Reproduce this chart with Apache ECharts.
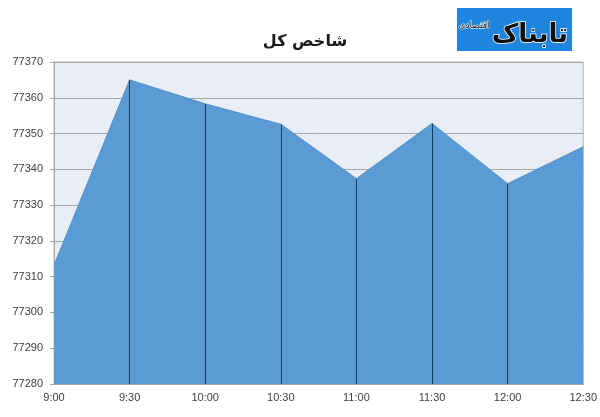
<!DOCTYPE html>
<html><head><meta charset="utf-8">
<script src="https://cdn.jsdelivr.net/npm/echarts@6/dist/echarts.min.js"></script>
<style>html,body{margin:0;padding:0;background:#fff}#c{width:600px;height:417px}</style>
</head><body><div id="c"></div>
<script>
const categories = ['9:00','9:30','10:00','10:30','11:00','11:30','12:00','12:30'];
const values = [77313.2, 77365.0, 77358.3, 77352.6, 77337.4, 77352.8, 77336.0, 77346.3];
const yMin = 77280, yMax = 77370, yStep = 10;
const titleText = 'شاخص کل';
const logoMain = 'تابناک';
const logoSub = 'اقتصادی';

const chart = echarts.init(document.getElementById('c'), null, {renderer:'canvas'});
const dropLines = values.map((v,i)=>[{coord:[i, yMin]},{coord:[i, v]}]).slice(1, values.length-1);
chart.setOption({
  animation:false,
  backgroundColor:'#fff',
  title:{text:titleText,left:300,top:29,textAlign:'center',textStyle:{fontFamily:'DejaVu Sans',fontWeight:'bold',fontSize:16,color:'#1a1a1a'}},
  grid:{left:54,right:16,top:62,bottom:33,show:true,backgroundColor:'#e9edf5',borderColor:'#b8b8b8',borderWidth:1},
  xAxis:{type:'category',data:categories,boundaryGap:false,
    axisLine:{lineStyle:{color:'#a6a6a6'}},axisTick:{show:false},
    axisLabel:{color:'#404040',fontFamily:'Liberation Sans',fontSize:11,margin:8}},
  yAxis:{type:'value',min:yMin,max:yMax,interval:yStep,
    axisLine:{show:true,lineStyle:{color:'#a6a6a6'}},axisTick:{show:true,length:4,lineStyle:{color:'#a6a6a6'}},
    splitLine:{lineStyle:{color:'#a6a6a6',width:1}},
    axisLabel:{color:'#404040',fontFamily:'Liberation Sans',fontSize:11,margin:11,formatter:v=>String(v)}},
  series:[{type:'line',data:values,symbol:'none',
    lineStyle:{color:'#4f8fcb',width:1},
    areaStyle:{color:'#5b9bd5',opacity:1},
    markLine:{silent:true,symbol:['none','none'],label:{show:false},
      lineStyle:{color:'#1f3b5c',width:1,type:'solid'},data:dropLines}}],
  graphic:[
    {type:'rect',shape:{x:457,y:8,width:115,height:43},style:{fill:'#1f86e0'}},
    {type:'text',x:568,y:35,style:{text:logoMain,fill:'#111',stroke:'#fff',lineWidth:1.5,font:'bold 26px "DejaVu Sans"',align:'right',verticalAlign:'middle'}},
    {type:'text',x:474,y:26,style:{text:logoSub,fill:'#111',stroke:'#fff',lineWidth:1,font:'9px "DejaVu Sans"',align:'center',verticalAlign:'middle'}}
  ]
});
</script></body></html>
